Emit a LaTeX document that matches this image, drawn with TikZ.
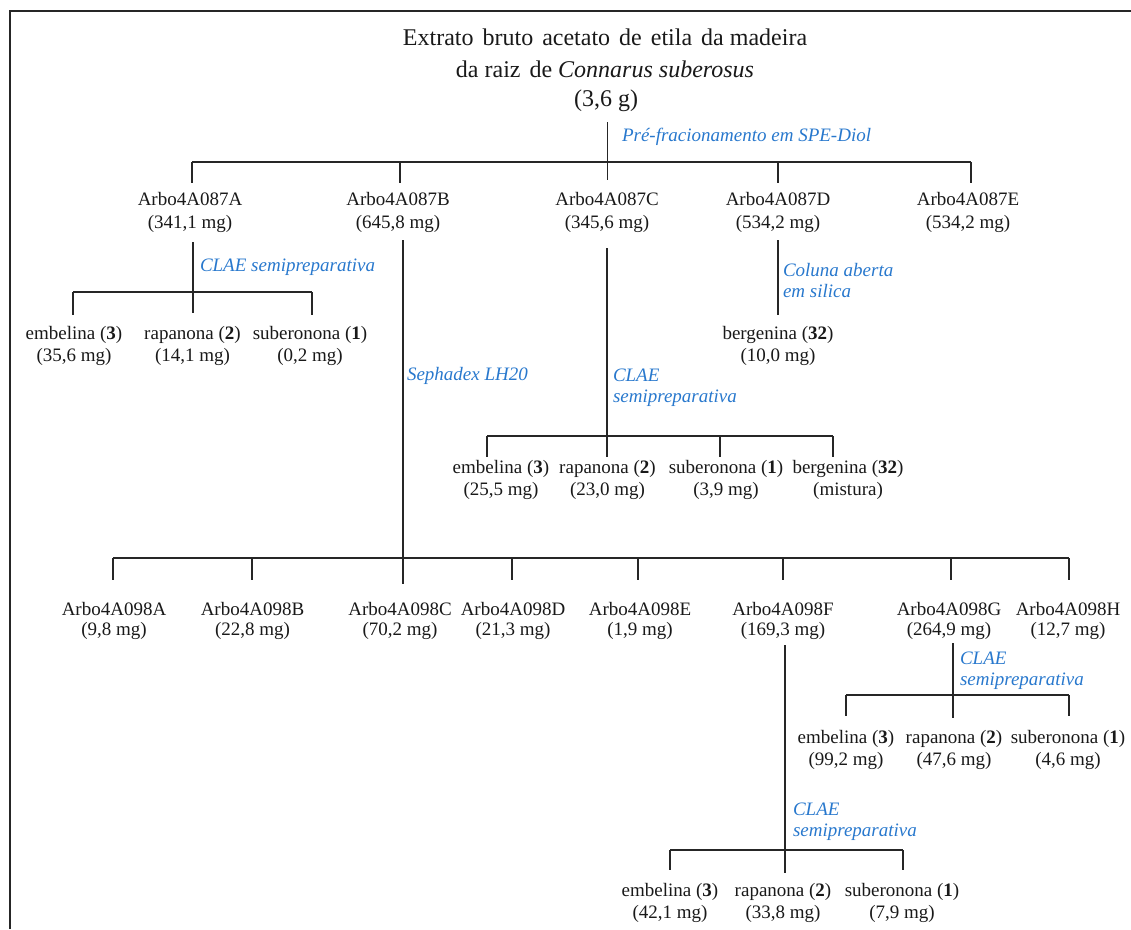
\documentclass[tikz,border=0pt]{standalone}
\usepackage{fontspec}
\setmainfont{Liberation Serif}
\definecolor{lblue}{RGB}{40,120,205}
\newcommand\tsp{\hspace{0.375em}}
\begin{document}
\begin{tikzpicture}[x=1pt,y=-1pt,
  ln/.style={draw=black!85, line width=1.3pt},
  n1/.style={inner sep=0pt, outer sep=0pt, anchor=north, align=center, font=\fontsize{19}{23}\selectfont, text=black!90},
  n2/.style={n1, font=\fontsize{19}{20}\selectfont},
  leaf/.style={n1, font=\fontsize{19}{22}\selectfont},
  lbl/.style={inner sep=0pt, outer sep=0pt, align=left, font=\fontsize{19}{21}\selectfont\itshape, text=lblue},
  ttl/.style={inner sep=0pt, outer sep=0pt, anchor=base, font=\fontsize{24}{30}\selectfont, text=black!90}]
\useasboundingbox (0,0) rectangle (1131,929);
% frame
\draw[line width=2.2pt, black!85] (10,929) -- (10,11) -- (1131,11);

% title
\node[ttl] (t1) at (605,45) {Extrato\tsp bruto\tsp acetato\tsp de\tsp etila\tsp da madeira};
\node[ttl] (t2) at (605,77) {da raiz\tsp de \textit{Connarus suberosus}};
\node[ttl] (t3) at (606,106) {(3,6 g)};

% level 1
\node[n1] (a) at (190,192) {Arbo4A087A\\(341,1 mg)};
\node[n1] (b) at (398,192) {Arbo4A087B\\(645,8 mg)};
\node[n1] (c) at (607,192) {Arbo4A087C\\(345,6 mg)};
\node[n1] (d) at (778,192) {Arbo4A087D\\(534,2 mg)};
\node[n1] (e) at (968,192) {Arbo4A087E\\(534,2 mg)};

\coordinate (j0) at (607.5,162);
\coordinate (j0a) at (192,162);
\coordinate (j0b) at (400,162);
\coordinate (j0d) at (778,162);
\coordinate (j0e) at (971,162);
\draw[ln, shorten <=11pt, shorten >=12pt] (j0 |- t3.south) -- (j0 |- c.north);
\draw[ln] (j0a) -- (j0e);
\foreach \j/\n in {j0a/a, j0b/b, j0d/d, j0e/e}
  \draw[ln, shorten >=9pt] (\j) -- (\j |- \n.north);
\node[lbl, anchor=base west] (pre) at (622,141) {Pré-fracionamento em SPE-Diol};

% branch A
\node[leaf] (a1) at (74,326) {embelina (\textbf{3})\\(35,6 mg)};
\node[leaf] (a2) at (192.5,326) {rapanona (\textbf{2})\\(14,1 mg)};
\node[leaf] (a3) at (310,326) {suberonona (\textbf{1})\\(0,2 mg)};
\coordinate (ja) at (193,292);
\coordinate (ja1) at (73,292);
\coordinate (ja3) at (312,292);
\draw[ln, shorten <=10pt, shorten >=13pt] (ja |- a.south) -- (ja |- a2.north);
\draw[ln] (ja1) -- (ja3);
\foreach \j/\n in {ja1/a1, ja3/a3}
  \draw[ln, shorten >=11pt] (\j) -- (\j |- \n.north);
\node[lbl, anchor=base west] (la) at (200,271) {CLAE semipreparativa};

% branch C
\node[leaf] (c1) at (501,460) {embelina (\textbf{3})\\(25,5 mg)};
\node[leaf] (c2) at (607.5,460) {rapanona (\textbf{2})\\(23,0 mg)};
\node[leaf] (c3) at (726,460) {suberonona (\textbf{1})\\(3,9 mg)};
\node[leaf] (c4) at (848,460) {bergenina (\textbf{32})\\(mistura)};
\coordinate (jc) at (607,436);
\coordinate (jc1) at (487,436);
\coordinate (jc3) at (720,436);
\coordinate (jc4) at (833,436);
\draw[ln, shorten <=16pt, shorten >=3pt] (jc |- c.south) -- (jc |- c2.north);
\draw[ln] (jc1) -- (jc4);
\foreach \j/\n in {jc1/c1, jc3/c3, jc4/c4}
  \draw[ln, shorten >=3pt] (\j) -- (\j |- \n.north);
\node[lbl, anchor=north west] (lc) at (613,369) {CLAE\\semipreparativa};

% branch D
\node[leaf] (d1) at (778,326) {bergenina (\textbf{32})\\(10,0 mg)};
\coordinate (jd) at (778,280);
\draw[ln, shorten <=8pt, shorten >=11pt] (jd |- d.south) -- (jd |- d1.north);
\node[lbl, anchor=north west] (ld) at (783,263.5) {Coluna aberta\\em silica};

% level 2 (branch B)
\node[n2] (g1) at (114,602) {Arbo4A098A\\(9,8 mg)};
\node[n2] (g2) at (252.5,602) {Arbo4A098B\\(22,8 mg)};
\node[n2] (g3) at (400,602) {Arbo4A098C\\(70,2 mg)};
\node[n2] (g4) at (513,602) {Arbo4A098D\\(21,3 mg)};
\node[n2] (g5) at (640,602) {Arbo4A098E\\(1,9 mg)};
\node[n2] (g6) at (783,602) {Arbo4A098F\\(169,3 mg)};
\node[n2] (g7) at (949,602) {Arbo4A098G\\(264,9 mg)};
\node[n2] (g8) at (1068,602) {Arbo4A098H\\(12,7 mg)};
\coordinate (jb) at (403,558);
\coordinate (jb1) at (113,558);
\coordinate (jb2) at (252,558);
\coordinate (jb4) at (512,558);
\coordinate (jb5) at (638,558);
\coordinate (jb6) at (783,558);
\coordinate (jb7) at (951,558);
\coordinate (jb8) at (1069,558);
\draw[ln, shorten <=8pt, shorten >=18pt] (jb |- b.south) -- (jb |- g3.north);
\draw[ln] (jb1) -- (jb8);
\foreach \j/\n in {jb1/g1, jb2/g2, jb4/g4, jb5/g5, jb6/g6, jb7/g7, jb8/g8}
  \draw[ln, shorten >=22pt] (\j) -- (\j |- \n.north);
\node[lbl, anchor=base west] (lb) at (407,380) {Sephadex LH20};

% branch G
\node[leaf] (h1) at (846,730) {embelina (\textbf{3})\\(99,2 mg)};
\node[leaf] (h2) at (954,730) {rapanona (\textbf{2})\\(47,6 mg)};
\node[leaf] (h3) at (1068,730) {suberonona (\textbf{1})\\(4,6 mg)};
\coordinate (jg) at (953,695);
\coordinate (jg1) at (846,695);
\coordinate (jg3) at (1069,695);
\draw[ln, shorten <=4pt, shorten >=12pt] (jg |- g7.south) -- (jg |- h2.north);
\draw[ln] (jg1) -- (jg3);
\foreach \j/\n in {jg1/h1, jg3/h3}
  \draw[ln, shorten >=14pt] (\j) -- (\j |- \n.north);
\node[lbl, anchor=north west] (lg) at (960,652.4) {CLAE\\semipreparativa};

% branch F
\node[leaf] (f1) at (670,883) {embelina (\textbf{3})\\(42,1 mg)};
\node[leaf] (f2) at (783,883) {rapanona (\textbf{2})\\(33,8 mg)};
\node[leaf] (f3) at (902,883) {suberonona (\textbf{1})\\(7,9 mg)};
\coordinate (jf) at (785,850);
\coordinate (jf1) at (670,850);
\coordinate (jf3) at (903,850);
\draw[ln, shorten <=6pt, shorten >=10pt] (jf |- g6.south) -- (jf |- f2.north);
\draw[ln] (jf1) -- (jf3);
\foreach \j/\n in {jf1/f1, jf3/f3}
  \draw[ln, shorten >=13pt] (\j) -- (\j |- \n.north);
\node[lbl, anchor=north west] (lf) at (793,802.5) {CLAE\\semipreparativa};
\end{tikzpicture}
\end{document}
